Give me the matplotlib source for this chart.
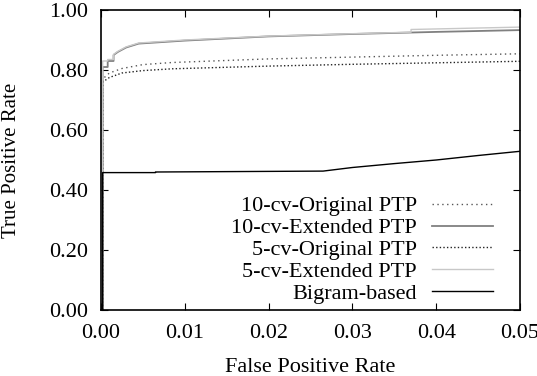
import matplotlib.pyplot as plt

plt.rcParams['font.family'] = ['Liberation Serif', 'DejaVu Serif']

# ROC points (false positive rate, true positive rate)
ext10_fpr = [0.0002, 0.0002, 0.0008, 0.0008, 0.0015, 0.0015, 0.0020, 0.0030, 0.0045, 0.0100, 0.0200, 0.0300, 0.0400, 0.0500]
ext10_tpr = [0.000, 0.810, 0.810, 0.830, 0.830, 0.850, 0.860, 0.875, 0.888, 0.898, 0.912, 0.920, 0.927, 0.933]

ext5_fpr = [0.0002, 0.0002, 0.0008, 0.0008, 0.0015, 0.0015, 0.0020, 0.0030, 0.0045, 0.0100, 0.0200, 0.0300, 0.0370, 0.0370, 0.0500]
ext5_tpr = [0.000, 0.830, 0.830, 0.835, 0.835, 0.852, 0.862, 0.877, 0.890, 0.900, 0.913, 0.921, 0.926, 0.935, 0.943]

orig10_fpr = [0.0002, 0.0002, 0.0010, 0.0025, 0.0050, 0.0085, 0.0200, 0.0300, 0.0400, 0.0500]
orig10_tpr = [0.000, 0.770, 0.790, 0.805, 0.818, 0.825, 0.837, 0.843, 0.849, 0.854]

orig5_fpr = [0.0002, 0.0002, 0.0010, 0.0025, 0.0050, 0.0085, 0.0200, 0.0300, 0.0400, 0.0500]
orig5_tpr = [0.000, 0.760, 0.775, 0.790, 0.798, 0.804, 0.813, 0.819, 0.824, 0.829]

bigram_fpr = [0.0002, 0.0002, 0.0065, 0.0065, 0.0265, 0.0300, 0.0350, 0.0400, 0.0450, 0.0500]
bigram_tpr = [0.000, 0.458, 0.458, 0.460, 0.463, 0.475, 0.488, 0.500, 0.515, 0.529]

fig = plt.figure(figsize=(5.37, 3.76), dpi=100)
ax = fig.add_axes([101 / 537, 1 - 310 / 376, 419 / 537, 300 / 376])

ax.plot(orig10_fpr, orig10_tpr, color="#555555", linestyle=(0, (1, 2.5)), linewidth=1.0, label="10-cv-Original PTP")
ax.plot(ext10_fpr, ext10_tpr, color="#808080", linewidth=1.3, label="10-cv-Extended PTP")
ax.plot(orig5_fpr, orig5_tpr, color="#222222", linestyle=(0, (1, 1.6)), linewidth=1.0, label="5-cv-Original PTP")
ax.plot(ext5_fpr, ext5_tpr, color="#c8c8c8", linewidth=1.0, label="5-cv-Extended PTP")
ax.plot(bigram_fpr, bigram_tpr, color="black", linewidth=1.0, label="Bigram-based")

ax.set_xlim(0, 0.05)
ax.set_ylim(0, 1)
ax.set_xticks([0.00, 0.01, 0.02, 0.03, 0.04, 0.05])
ax.set_xticklabels(["0.00", "0.01", "0.02", "0.03", "0.04", "0.05"])
ax.set_yticks([0.0, 0.2, 0.4, 0.6, 0.8, 1.0])
ax.set_yticklabels(["0.00", "0.20", "0.40", "0.60", "0.80", "1.00"])
ax.tick_params(direction="in", top=True, right=True, labelsize=16, length=5)
ax.tick_params(axis="y", pad=9)
ax.tick_params(axis="x", pad=10)
for s in ax.spines.values():
    s.set_linewidth(1.2)

ax.set_xlabel("False Positive Rate", fontsize=16)
ax.set_ylabel("True Positive Rate", fontsize=15)
ax.xaxis.set_label_coords(0.5, -0.16)
ax.yaxis.set_label_coords(-0.19, 0.5)

leg = ax.legend(loc="lower right", frameon=False, markerfirst=False, fontsize=16,
                handlelength=2.75, labelspacing=0.06, borderpad=0, borderaxespad=0,
                handletextpad=0.68, bbox_to_anchor=((493 - 101) / 419, 0.02))
for t in leg.get_texts():
    t.set_ha("right")
leg._legend_box.align = "right"

fig.savefig("out.png", dpi=100)
